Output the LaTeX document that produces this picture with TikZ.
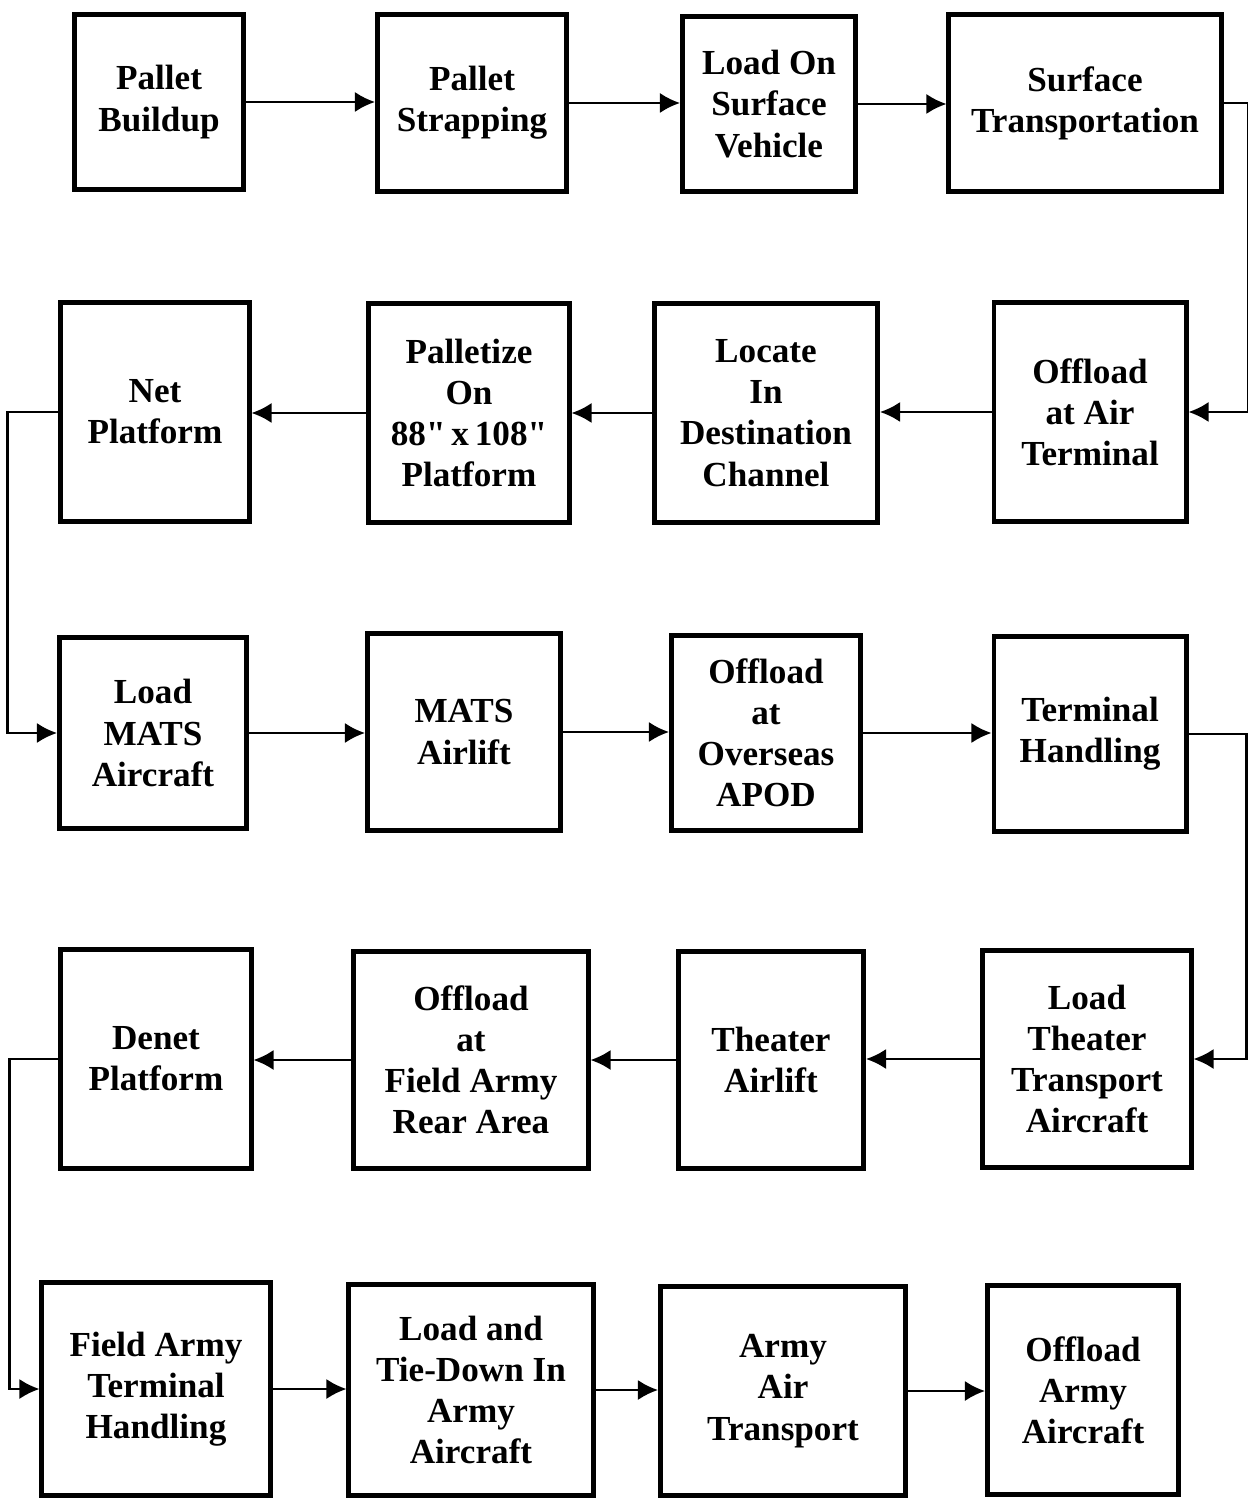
\documentclass[tikz,border=0pt]{standalone}
\usepackage{fontspec}
\setmainfont{Liberation Serif}
\usetikzlibrary{arrows.meta}

\begin{document}
\begin{tikzpicture} [
    x=0.01cm, y=-0.01cm,
    block/.style    = { rectangle, draw, line width=1.4pt, align=center,
                        font=\fontsize{10}{11.7}\selectfont\bfseries },
    line/.style     = { draw, line width=0.6pt,
                        -{Latex[length=2mm,width=2mm]} },
  ]
  \useasboundingbox (0,0) rectangle (1247,1498);

  % Define nodes, row by row
  \node[block, minimum width=1.68cm, minimum height=1.75cm] (buildup)   at (159,102)  {Pallet\\Buildup};
  \node[block, minimum width=1.89cm, minimum height=1.76cm] (strapping) at (472,103)  {Pallet\\Strapping};
  \node[block, minimum width=1.73cm, minimum height=1.75cm] (loadsurf)  at (769,104)  {Load On\\Surface\\Vehicle};
  \node[block, minimum width=2.72cm, minimum height=1.77cm] (surftrans) at (1085,103) {Surface\\Transportation};

  \node[block, minimum width=1.88cm, minimum height=2.18cm] (net)       at (155,412)  {Net\\Platform};
  \node[block, minimum width=2.00cm, minimum height=2.18cm] (palletize) at (469,413)  {Palletize\\On\\88\textquotedbl\,x\,108\textquotedbl\\Platform};
  \node[block, minimum width=2.23cm, minimum height=2.19cm] (locate)    at (766,413)  {Locate\\In\\Destination\\Channel};
  \node[block, minimum width=1.92cm, minimum height=2.19cm] (offair)    at (1090,412) {Offload\\at Air\\Terminal};

  \node[block, minimum width=1.87cm, minimum height=1.91cm] (loadmats)  at (153,733)  {Load\\MATS\\Aircraft};
  \node[block, minimum width=1.93cm, minimum height=1.96cm] (matsair)   at (464,732)  {MATS\\Airlift};
  \node[block, minimum width=1.89cm, minimum height=1.95cm] (offapod)   at (766,733)  {Offload\\at\\Overseas\\APOD};
  \node[block, minimum width=1.92cm, minimum height=1.94cm] (termhand)  at (1090,734) {Terminal\\Handling};

  \node[block, minimum width=1.90cm, minimum height=2.18cm] (denet)     at (156,1059) {Denet\\Platform};
  \node[block, minimum width=2.34cm, minimum height=2.17cm] (offrear)   at (471,1060) {Offload\\at\\Field Army\\Rear Area};
  \node[block, minimum width=1.85cm, minimum height=2.16cm] (theatair)  at (771,1060) {Theater\\Airlift};
  \node[block, minimum width=2.08cm, minimum height=2.17cm] (loadtheat) at (1087,1059) {Load\\Theater\\Transport\\Aircraft};

  \node[block, minimum width=2.28cm, minimum height=2.12cm] (fieldterm) at (156,1389) {Field Army\\Terminal\\Handling};
  \node[block, minimum width=2.44cm, minimum height=2.10cm] (tiedown)   at (471,1390) {Load and\\Tie-Down In\\Army\\Aircraft};
  \node[block, minimum width=2.45cm, minimum height=2.08cm] (armyair)   at (783,1391) {Army\\Air\\Transport};
  \node[block, minimum width=1.91cm, minimum height=2.09cm] (offarmy)   at (1083,1390) {Offload\\Army\\Aircraft};

  % connect the nodes
  \path [line] (buildup) -- (buildup -| strapping.west);
  \path [line] (strapping) -- (strapping -| loadsurf.west);
  \path [line] (loadsurf) -- (loadsurf -| surftrans.west);
  \path [line] (surftrans.east) -- ++(24,0) |- (offair.east);

  \path [line] (offair) -- (offair -| locate.east);
  \path [line] (locate) -- (locate -| palletize.east);
  \path [line] (palletize) -- (palletize -| net.east);
  \path [line] (net.west) -- ++(-51,0) |- (loadmats.west);

  \path [line] (loadmats) -- (loadmats -| matsair.west);
  \path [line] (matsair) -- (matsair -| offapod.west);
  \path [line] (offapod) -- (offapod -| termhand.west);
  \path [line] (termhand.east) -- ++(58,0) |- (loadtheat.east);

  \path [line] (loadtheat) -- (loadtheat -| theatair.east);
  \path [line] (theatair) -- (theatair -| offrear.east);
  \path [line] (offrear) -- (offrear -| denet.east);
  \path [line] (denet.west) -- ++(-49,0) |- (fieldterm.west);

  \path [line] (fieldterm) -- (fieldterm -| tiedown.west);
  \path [line] (tiedown) -- (tiedown -| armyair.west);
  \path [line] (armyair) -- (armyair -| offarmy.west);
\end{tikzpicture}
\end{document}
